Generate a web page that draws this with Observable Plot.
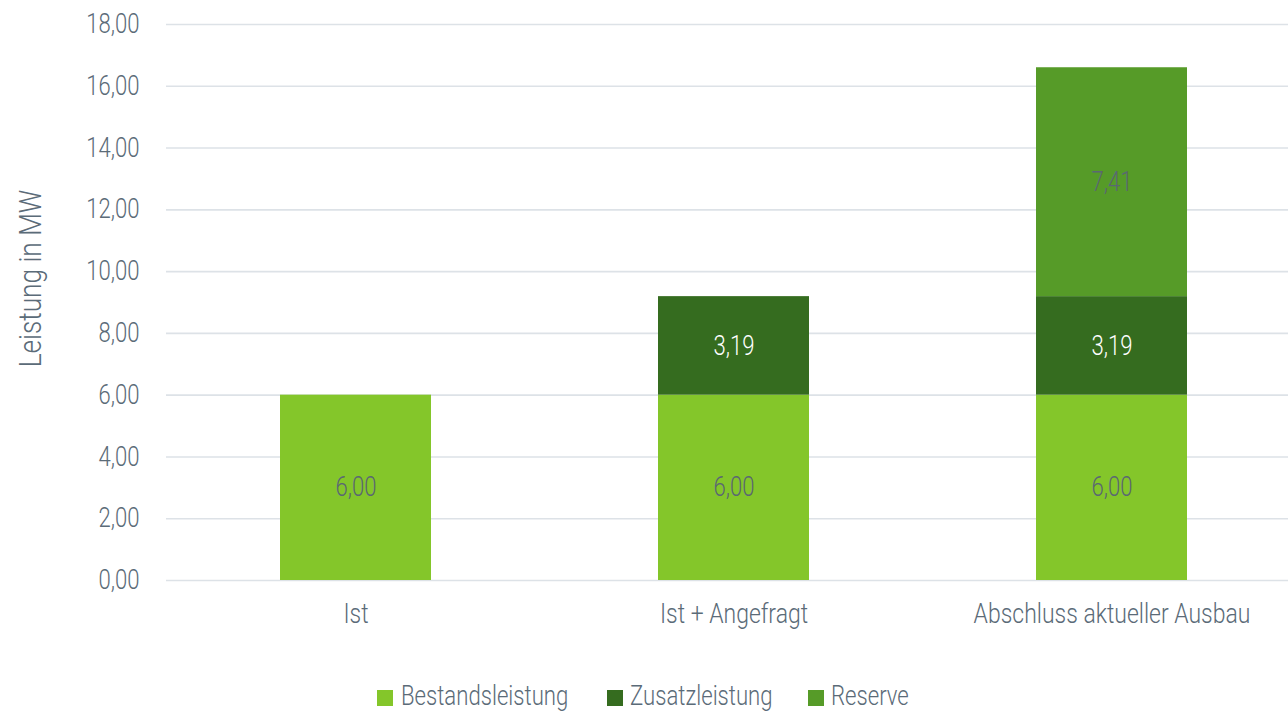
<!DOCTYPE html>
<html>
<head>
<meta charset="utf-8">
<script src="https://cdn.jsdelivr.net/npm/d3@7"></script>
<script src="https://cdn.jsdelivr.net/npm/@observablehq/plot@0.6"></script>
<style>
  html, body { margin: 0; padding: 0; background: #fff; }
  #chart svg { display: block; }
  .legend { position: relative; height: 45px; width: 1288px;
    font-family: Roboto, sans-serif; font-weight: 300; font-size: 27px; color: #5b6b78; }
  .legend .sw { position: absolute; width: 16px; height: 16px; top: 20px; }
  .legend .lbl { position: absolute; top: 10px; line-height: 32px; white-space: nowrap;
    transform: scaleX(0.82); transform-origin: left center; }
</style>
</head>
<body>
<div id="chart"></div>
<div class="legend" id="legend"></div>
<script>
const categories = ["Ist", "Ist + Angefragt", "Abschluss aktueller Ausbau"];
const seriesNames = ["Bestandsleistung", "Zusatzleistung", "Reserve"];
const bestandsleistung = [6.00, 6.00, 6.00];
const zusatzleistung = [null, 3.19, 3.19];
const reserve = [null, null, 7.41];
const seriesColors = ["#84c62a", "#356c1f", "#569b28"];
const yTicks = [0, 2, 4, 6, 8, 10, 12, 14, 16, 18];

const seriesValues = [bestandsleistung, zusatzleistung, reserve];
const data = [];
seriesNames.forEach((s, si) => {
  categories.forEach((c, ci) => {
    const v = seriesValues[si][ci];
    if (v != null) data.push({category: c, series: s, value: v});
  });
});

const font = "Roboto, sans-serif";
const textColor = "#5b6b78";
const fmt = d => d.toFixed(2).replace(".", ",");
const SX = 0.82;

const chart = Plot.plot({
  width: 1288,
  height: 670,
  marginTop: 24,
  marginBottom: 90,
  marginLeft: 166,
  marginRight: 0,
  style: {fontFamily: font, fontWeight: 300, color: textColor, background: "#fff"},
  x: {domain: categories, range: [166, 1301], paddingInner: 0.6, paddingOuter: 0.3},
  y: {domain: [0, 18]},
  color: {domain: seriesNames, range: seriesColors},
  marks: [
    Plot.gridY(yTicks, {stroke: "#dde2e7", strokeWidth: 1.6, strokeOpacity: 1}),
    Plot.axisY(yTicks, {tickSize: 0, tickPadding: 27, fontSize: 27, tickFormat: fmt, label: null, fill: textColor}),
    Plot.axisX({tickSize: 0, tickPadding: 23, fontSize: 28, label: null, fill: textColor}),
    Plot.text(["Leistung in MW"], {frameAnchor: "left", textAnchor: "middle", dx: -136, dy: -24, rotate: -90, fontSize: 32, fill: textColor}),
    Plot.barY(data, {x: "category", y: "value", fill: "series", order: seriesNames}),
    Plot.text(data, Plot.stackY({x: "category", y: "value", z: "series", order: seriesNames,
      text: d => fmt(d.value), fontSize: 27,
      fill: d => d.series === "Zusatzleistung" ? "#ffffff" : "#5a6773"}))
  ]
});
document.getElementById("chart").appendChild(chart);

// condense all text horizontally around its anchor
chart.querySelectorAll("text").forEach(el => {
  const x = +el.getAttribute("x") || 0;
  if (x) el.setAttribute("x", x / SX);
  const t = el.getAttribute("transform") || "";
  el.setAttribute("transform", (t + ` scale(${SX},1)`).trim());
});

const legend = document.getElementById("legend");
const swatchX = [377, 607, 808];
const labelX = [401, 630, 831];
seriesNames.forEach((s, i) => {
  const sw = document.createElement("span");
  sw.className = "sw";
  sw.style.left = swatchX[i] + "px";
  sw.style.background = seriesColors[i];
  legend.appendChild(sw);
  const lbl = document.createElement("span");
  lbl.className = "lbl";
  lbl.style.left = labelX[i] + "px";
  lbl.textContent = s;
  legend.appendChild(lbl);
});
</script>
</body>
</html>
